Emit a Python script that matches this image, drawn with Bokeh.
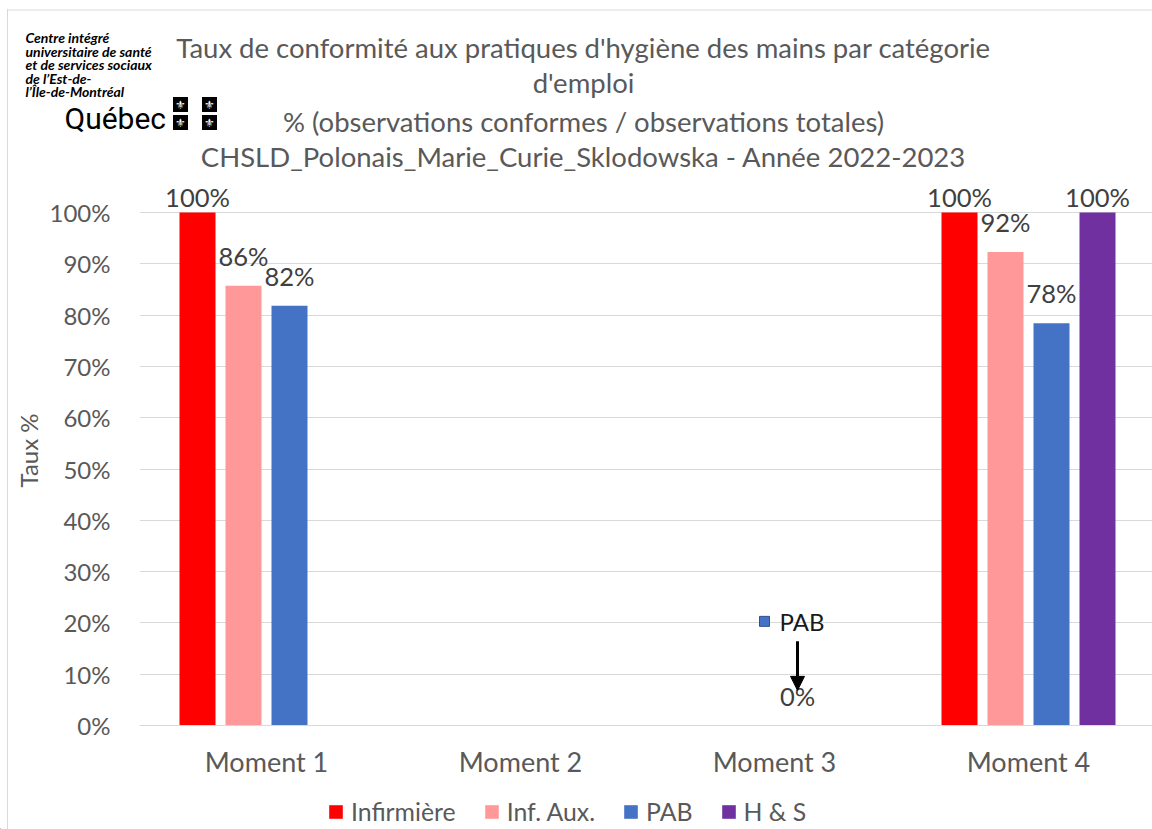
from bokeh.plotting import figure
from bokeh.layouts import column
from bokeh.models import (ColumnDataSource, Range1d, FixedTicker, LabelSet,
                          Legend, LegendItem, Arrow, NormalHead)
from bokeh.core.properties import value
from bokeh.embed import file_html
from bokeh.resources import INLINE

# ---------------- data ----------------
moments = ["Moment 1", "Moment 2", "Moment 3", "Moment 4"]
series_names = ["Infirmière", "Inf. Aux.", "PAB", "H & S"]
series_colors = ["#FF0000", "#FF9999", "#4472C4", "#7030A0"]
infirmiere = [100.0, None, None, 100.0]
inf_aux = [85.7, None, None, 92.3]
pab = [81.8, None, 0.0, 78.4]
h_s = [None, None, None, 100.0]
y_ticks = [0, 10, 20, 30, 40, 50, 60, 70, 80, 90, 100]
y_tick_labels = [f"{t}%" for t in y_ticks]

title_lines = [
    "Taux de conformité aux pratiques d'hygiène des mains par catégorie",
    "d'emploi",
    "% (observations conformes / observations totales)",
    "CHSLD_Polonais_Marie_Curie_Sklodowska - Année 2022-2023",
]
logo_lines = ["Centre intégré", "universitaire de santé", "et de services sociaux",
              "de l’Est-de-", "l’Île-de-Montréal"]
y_axis_title = "Taux %"
callout_label = "PAB"
callout_level = 20.3   # height of the callout box (in %)

# ---------------- layout ----------------
W = 1152
TOP_H = 175                 # header figure height
MAIN_H = 610                # main figure height
LEG_H = 829 - TOP_H - MAIN_H
FL = 139                    # frame left
FRAME_H = 725 - TOP_H       # frame from y=175 to y=725
PX_PER_PCT = 513 / 100.0
CAT_PX = 254.0
X_END = (W - FL) / CAT_PX
BAR_W = 36 / CAT_PX
offsets = [-69 / CAT_PX, -23 / CAT_PX, 23 / CAT_PX, 69 / CAT_PX]

FONT = "Lato"
GREY = "#595959"


def no_align(f):
    try:
        f.frame_align = False
    except Exception:
        pass


# ---------------- header figure (logo + title) ----------------
top = figure(width=W, height=TOP_H, output_backend="svg", toolbar_location=None,
             x_range=Range1d(0, W), y_range=Range1d(TOP_H, 0),
             min_border=0)
no_align(top)
top.axis.visible = False
top.grid.visible = False
top.outline_line_color = None
top.background_fill_alpha = 0
top.border_fill_alpha = 0

top.text(x=[583] * len(title_lines), y=[47, 82, 121, 156], text=title_lines,
         text_align="center", text_baseline="middle", text_font=value(FONT),
         text_font_size="27.5px", text_color=GREY)
top.text(x=[25] * len(logo_lines), y=[37, 50.5, 64, 77.5, 91], text=logo_lines,
         text_align="left", text_baseline="middle", text_font=value(FONT),
         text_font_style="bold italic", text_font_size="14px", text_color="black")
top.text(x=[64], y=[118], text=["Québec"], text_align="left",
         text_baseline="alphabetic",
         text_font=value("Liberation Sans Narrow, Roboto"),
         text_font_size="30px", text_color="black")
fx = [180, 209, 180, 209]
fy = [104, 104, 122, 122]
top.scatter(x=fx, y=fy, marker="square", size=15, fill_color="black", line_color=None)
top.text(x=fx, y=fy, text=["⚜"] * 4, text_align="center", text_baseline="middle",
         text_font=value("DejaVu Sans"), text_font_size="12px", text_color="white")
# chart-area border (top edge)
top.line(x=[7.5, W], y=[9.5, 9.5], line_color="#d9d9d9", line_width=1)

# ---------------- main figure ----------------
p = figure(width=W, height=MAIN_H, output_backend="svg", toolbar_location=None,
           x_range=Range1d(0, X_END), y_range=Range1d(0, FRAME_H / PX_PER_PCT),
           min_border_left=FL, min_border_top=0,
           min_border_bottom=MAIN_H - FRAME_H, min_border_right=0)
no_align(p)
p.outline_line_color = None
p.background_fill_alpha = 0
p.border_fill_alpha = 0

p.yaxis.ticker = FixedTicker(ticks=y_ticks)
p.yaxis.major_label_overrides = {t: l for t, l in zip(y_ticks, y_tick_labels)}
p.yaxis.axis_line_color = None
p.yaxis.major_tick_line_color = None
p.yaxis.minor_tick_line_color = None
p.yaxis.major_label_standoff = 23
p.yaxis.major_label_text_font = FONT
p.yaxis.major_label_text_font_size = "24px"
p.yaxis.major_label_text_color = GREY
p.yaxis.axis_label = y_axis_title
p.yaxis.axis_label_text_font = FONT
p.yaxis.axis_label_text_font_size = "24px"
p.yaxis.axis_label_text_font_style = "normal"
p.yaxis.axis_label_text_color = GREY
p.yaxis.axis_label_standoff = 4

cat_centers = [i + 0.5 for i in range(len(moments))]
p.xaxis.ticker = FixedTicker(ticks=cat_centers)
p.xaxis.major_label_overrides = {c: m for c, m in zip(cat_centers, moments)}
p.xaxis.axis_line_color = "#d9d9d9"
p.xaxis.axis_line_width = 1
p.xaxis.major_tick_line_color = None
p.xaxis.minor_tick_line_color = None
p.xaxis.major_label_standoff = 13
p.xaxis.major_label_text_font = FONT
p.xaxis.major_label_text_font_size = "27px"
p.xaxis.major_label_text_color = GREY

p.xgrid.grid_line_color = None
p.ygrid.grid_line_color = "#d9d9d9"
p.ygrid.grid_line_width = 1

all_series = [infirmiere, inf_aux, pab, h_s]
for k, (name, color, vals) in enumerate(zip(series_names, series_colors, all_series)):
    xs, tops, labels, yoff = [], [], [], []
    for i, v in enumerate(vals):
        if v is None:
            continue
        xs.append(cat_centers[i] + offsets[k])
        tops.append(v)
        labels.append(f"{round(v)}%")
        yoff.append(6 if v >= 100 else 20)
    src = ColumnDataSource(dict(x=xs, top=tops, label=labels, yoff=yoff))
    p.vbar(x="x", top="top", bottom=0, width=BAR_W, source=src,
           fill_color=color, line_color=None)
    p.add_layout(LabelSet(x="x", y="top", text="label", y_offset="yoff", source=src,
                          text_align="center", text_baseline="alphabetic",
                          text_font=value(FONT), text_font_size="25.5px",
                          text_color="#404040"))

# callout (PAB at Moment 3)
ci = moments.index("Moment 3")
cx = cat_centers[ci] + offsets[series_names.index(callout_label)]
p.scatter(x=[cx - 33 / CAT_PX], y=[callout_level], marker="square", size=10,
          fill_color="#4472C4", line_color="#2F528F", line_width=1)
p.text(x=[cx - 18 / CAT_PX], y=[callout_level], text=[callout_label],
       text_align="left", text_baseline="middle", text_font=value(FONT),
       text_font_size="24px", text_color="#1a1a1a")
p.add_layout(Arrow(x_start=cx, y_start=callout_level - 20 / PX_PER_PCT,
                   x_end=cx, y_end=callout_level - 69 / PX_PER_PCT,
                   line_width=3, line_color="black",
                   end=NormalHead(size=14, fill_color="black", line_color="black")))

# ---------------- legend figure ----------------
lg = figure(width=W, height=LEG_H, output_backend="svg", toolbar_location=None,
            x_range=Range1d(0, W), y_range=Range1d(0, LEG_H), min_border=0)
no_align(lg)
lg.axis.visible = False
lg.grid.visible = False
lg.outline_line_color = None
lg.background_fill_alpha = 0
lg.border_fill_alpha = 0
items = []
for name, color in zip(series_names, series_colors):
    # one bar far outside the visible range: used only as the legend's glyph source
    r = lg.vbar(x=[-1000], top=[1], width=1, fill_color=color, line_color=None)
    items.append(LegendItem(label=name, renderers=[r]))
legend = Legend(items=items, orientation="horizontal", location=(327, 3),
                border_line_color=None, background_fill_alpha=0,
                padding=0, margin=0, spacing=27, label_standoff=7,
                glyph_width=17, glyph_height=17,
                label_text_font=FONT, label_text_font_size="24.8px",
                label_text_color=GREY)
lg.add_layout(legend, "center")

layout = column(top, p, lg, spacing=0)
layout.styles = {"background": "linear-gradient(#d9d9d9,#d9d9d9) 7px 9px / 1px 100% no-repeat"}

open("out.html", "w").write(file_html(layout, INLINE))
